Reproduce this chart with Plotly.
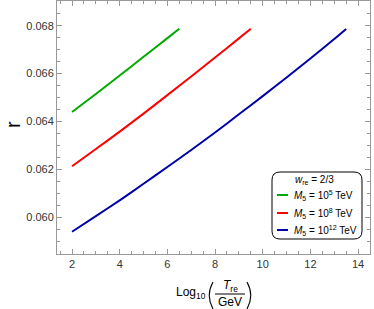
import plotly.graph_objects as go

# ---- data ----
x_green = [2, 3, 4, 5, 6, 6.5]
r_green = [0.06440, 0.06515, 0.06592, 0.06670, 0.06748, 0.06787]

x_red = [2, 3, 4, 5, 6, 7, 8, 9, 9.5]
r_red = [0.06213, 0.06285, 0.06358, 0.06433, 0.06510, 0.06588, 0.06667, 0.06747, 0.06787]

x_blue = [2, 3, 4, 5, 6, 7, 8, 9, 10, 11, 12, 13, 13.5]
r_blue = [0.05940, 0.06005, 0.06071, 0.06140, 0.06210, 0.06281, 0.06354, 0.06430,
          0.06506, 0.06584, 0.06663, 0.06744, 0.06786]

series_names = ["<i>M</i><sub>5</sub> = 10<sup>5</sup> TeV",
                "<i>M</i><sub>5</sub> = 10<sup>8</sup> TeV",
                "<i>M</i><sub>5</sub> = 10<sup>12</sup> TeV"]
legend_title = "<i>w</i><sub>re</sub> = 2/3"
x_ticks = [2, 4, 6, 8, 10, 12, 14]
y_ticks = [0.060, 0.062, 0.064, 0.066, 0.068]

colors = ["#00AA00", "#FF0000", "#0000AA"]

W, H = 374, 309
L, R, T, B = 57, 4, 1, 55
PW, PH = W - L - R, H - T - B


def X(px):
    return (px - L) / PW


def Y(py):
    return (H - B - py) / PH


fig = go.Figure()
for xs, ys, c, n in [(x_green, r_green, colors[0], series_names[0]),
                     (x_red, r_red, colors[1], series_names[1]),
                     (x_blue, r_blue, colors[2], series_names[2])]:
    fig.add_trace(go.Scatter(x=xs, y=ys, mode="lines", name=n,
                             line=dict(color=c, width=2, shape="spline", smoothing=0.6),
                             showlegend=False, hoverinfo="skip"))

axis_color = "#999999"
font = "Liberation Sans"

fig.update_layout(
    width=W, height=H,
    margin=dict(l=L, r=R, t=T, b=B),
    plot_bgcolor="white", paper_bgcolor="white",
    font=dict(family=font, size=11, color="#333333"),
    xaxis=dict(range=[1.37, 14.5], tickvals=x_ticks, ticks="inside", ticklen=5,
               tickcolor=axis_color, showline=True, linecolor=axis_color, linewidth=1,
               mirror="allticks", showgrid=False, zeroline=False,
               minor=dict(dtick=0.5, tick0=0, ticks="inside", ticklen=3, tickcolor=axis_color, showgrid=False)),
    yaxis=dict(range=[0.05847, 0.06903], tickvals=y_ticks, tickformat=".3f", ticks="inside", ticklen=5,
               tickcolor=axis_color, showline=True, linecolor=axis_color, linewidth=1,
               mirror="allticks", showgrid=False, zeroline=False,
               minor=dict(dtick=0.0005, tick0=0, ticks="inside", ticklen=3, tickcolor=axis_color, showgrid=False)),
)

ann = []
shapes = []

# y-axis label (rotated)
ann.append(dict(x=X(13), y=Y(125), xref="paper", yref="paper", text="r", showarrow=False,
                textangle=-90, borderpad=0,
                font=dict(size=20, color="black", family=font), xanchor="center", yanchor="middle"))

# x-axis label: Log10( T_re / GeV )
ann.append(dict(x=X(208), y=Y(293), xref="paper", yref="paper", text="Log<sub>10</sub>",
                showarrow=False, font=dict(size=12, color="black", family=font),
                xanchor="right", yanchor="middle"))
ann.append(dict(x=X(230), y=Y(286), xref="paper", yref="paper", text="<i>T</i><sub>re</sub>",
                showarrow=False, font=dict(size=12, color="black", family=font),
                xanchor="center", yanchor="middle"))
ann.append(dict(x=X(230), y=Y(302), xref="paper", yref="paper", text="GeV",
                showarrow=False, font=dict(size=12, color="black", family=font),
                xanchor="center", yanchor="middle"))
shapes.append(dict(type="line", xref="paper", yref="paper", x0=X(215), x1=X(245), y0=Y(294), y1=Y(294),
                   line=dict(color="black", width=1)))
# stretched parentheses
shapes.append(dict(type="path", xref="paper", yref="paper",
                   path=f"M {X(213)},{Y(282)} Q {X(205.5)},{Y(295.5)} {X(213)},{Y(309)}",
                   line=dict(color="black", width=1.1)))
shapes.append(dict(type="path", xref="paper", yref="paper",
                   path=f"M {X(247)},{Y(282)} Q {X(254.5)},{Y(295.5)} {X(247)},{Y(309)}",
                   line=dict(color="black", width=1.1)))

# legend box (rounded)
x0, x1, y0, y1, rr = 272, 362, 172, 239, 8
p = (f"M {X(x0+rr)},{Y(y0)} L {X(x1-rr)},{Y(y0)} Q {X(x1)},{Y(y0)} {X(x1)},{Y(y0+rr)} "
     f"L {X(x1)},{Y(y1-rr)} Q {X(x1)},{Y(y1)} {X(x1-rr)},{Y(y1)} "
     f"L {X(x0+rr)},{Y(y1)} Q {X(x0)},{Y(y1)} {X(x0)},{Y(y1-rr)} "
     f"L {X(x0)},{Y(y0+rr)} Q {X(x0)},{Y(y0)} {X(x0+rr)},{Y(y0)} Z")
shapes.append(dict(type="path", xref="paper", yref="paper", path=p,
                   line=dict(color="black", width=1), fillcolor="white", layer="above"))

ann.append(dict(x=X(293), y=Y(180), xref="paper", yref="paper", text=legend_title,
                showarrow=False, font=dict(size=10, color="black", family=font),
                xanchor="left", yanchor="middle"))
rows = [195, 213, 230]
for c, n, ry in zip(colors, series_names, rows):
    shapes.append(dict(type="line", xref="paper", yref="paper", x0=X(277), x1=X(288), y0=Y(ry), y1=Y(ry),
                       line=dict(color=c, width=2), layer="above"))
    ann.append(dict(x=X(292), y=Y(ry), xref="paper", yref="paper", text=n,
                    showarrow=False, font=dict(size=10, color="black", family=font),
                    xanchor="left", yanchor="middle"))

fig.update_layout(annotations=ann, shapes=shapes)
fig.write_html("out.html", post_script="document.body.style.margin='0px';",
               config={"displayModeBar": False})
